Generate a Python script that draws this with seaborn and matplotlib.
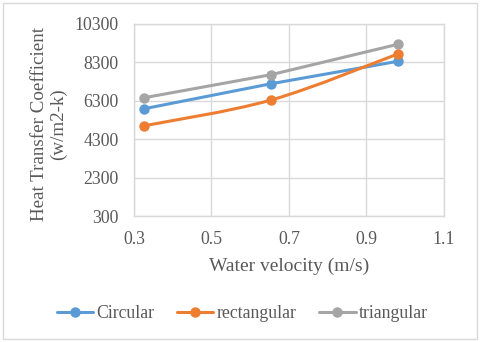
import matplotlib
matplotlib.use("Agg")
import matplotlib.pyplot as plt
from matplotlib.lines import Line2D
from matplotlib.path import Path
from matplotlib.patches import PathPatch, Rectangle
import pandas as pd
import seaborn as sns

# data
velocity = [0.327, 0.654, 0.981]
circular = [5890, 7190, 8356]
rectangular = [5003, 6342, 8738]
triangular = [6462, 7660, 9241]
series_names = ["Circular", "rectangular", "triangular"]
x_ticks = [0.3, 0.5, 0.7, 0.9, 1.1]
y_ticks = [300, 2300, 4300, 6300, 8300, 10300]

colors = {"Circular": "#5B9BD5", "rectangular": "#ED7D31", "triangular": "#A5A5A5"}
text_gray = "#595959"
grid_gray = "#D9D9D9"


def smooth_path(xs, ys):
    """Catmull-Rom style bezier path through the points (Excel smoothed line)."""
    pts = list(zip(xs, ys))
    ext = [pts[0]] + pts + [pts[-1]]
    verts = [pts[0]]
    codes = [Path.MOVETO]
    for i in range(1, len(ext) - 2):
        p0, p1, p2, p3 = ext[i - 1], ext[i], ext[i + 1], ext[i + 2]
        c1 = (p1[0] + (p2[0] - p0[0]) / 6, p1[1] + (p2[1] - p0[1]) / 6)
        c2 = (p2[0] - (p3[0] - p1[0]) / 6, p2[1] - (p3[1] - p1[1]) / 6)
        verts += [c1, c2, p2]
        codes += [Path.CURVE4] * 3
    return Path(verts, codes)


df = pd.DataFrame({
    "velocity": velocity * 3,
    "htc": circular + rectangular + triangular,
    "shape": sum([[n] * len(velocity) for n in series_names], []),
})

sns.set_style("whitegrid")
plt.rcParams["font.family"] = ["Liberation Serif", "DejaVu Serif"]

fig = plt.figure(figsize=(4.8, 3.42), dpi=100)
ax = fig.add_axes([0.279, 0.368, 0.646, 0.562])

sns.lineplot(data=df, x="velocity", y="htc", hue="shape", palette=colors,
             marker="o", markersize=7.5, markeredgewidth=0, linewidth=2.2,
             legend=False, ax=ax, zorder=3)

# rectangular is drawn as a smoothed line in the original
for line in ax.lines:
    if line.get_color().lower() == colors["rectangular"].lower():
        line.set_linestyle("none")
        line.set_zorder(4)
ax.add_patch(PathPatch(smooth_path(velocity, rectangular), facecolor="none",
                       edgecolor=colors["rectangular"], linewidth=2.2,
                       zorder=3, capstyle="round"))

ax.set_xlim(0.3, 1.1)
ax.set_ylim(300, 10300)
ax.set_xticks(x_ticks)
ax.set_yticks(y_ticks)
ax.set_xticklabels([f"{v:.1f}" for v in x_ticks])
ax.set_yticklabels([str(v) for v in y_ticks])
ax.tick_params(axis="both", colors=text_gray, labelsize=12.8, length=0)
ax.tick_params(axis="x", pad=11)
ax.tick_params(axis="y", pad=11)
ax.grid(True, color=grid_gray, linewidth=1)
for s in ax.spines.values():
    s.set_visible(True)
    s.set_color(grid_gray)
    s.set_linewidth(1)

ax.set_xlabel("Water velocity (m/s)", fontsize=14, color=text_gray, labelpad=7)
ax.set_ylabel("Heat Transfer Coefficient\n(w/m2-k)", fontsize=13.7,
              color=text_gray, linespacing=1.15)
ax.yaxis.set_label_coords(-0.215, 0.48)

handles = [Line2D([0], [0], color=colors[n], marker="o", markersize=7.5,
                  markeredgewidth=0, linewidth=2.2) for n in series_names]
fig.legend(handles, series_names, loc="center", bbox_to_anchor=(0.505, 0.082),
           ncol=3, frameon=False, fontsize=12.8, labelcolor=text_gray,
           handlelength=2.05, handletextpad=0.2, columnspacing=1.25)

fig.patches.append(Rectangle((0.006, 0.008), 0.988, 0.984, transform=fig.transFigure,
                             fill=False, edgecolor="#D9D9D9", linewidth=1))

fig.savefig("out.png", dpi=100)
